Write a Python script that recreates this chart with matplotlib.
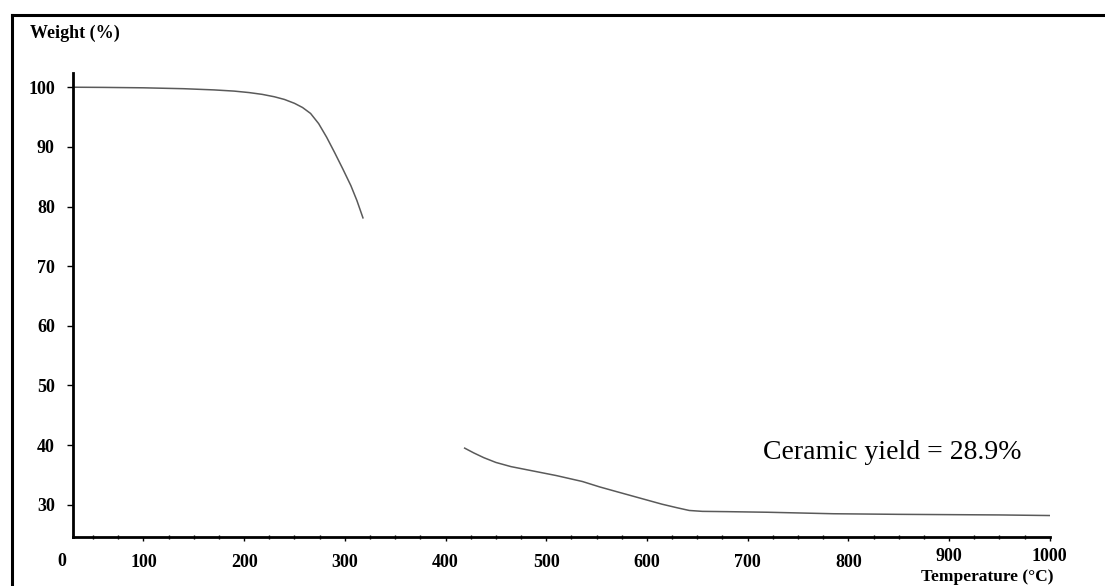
# tga_ceramic_yield.py
import numpy as np
import matplotlib
matplotlib.use('Agg')
import matplotlib.pyplot as plt
from matplotlib.lines import Line2D
from matplotlib.transforms import ScaledTranslation

# ------------- Datos -------------
temp_low = [30, 60, 100, 140, 170, 190, 205, 218, 230, 240, 250, 258, 266, 274, 282, 290, 298, 306, 312, 318]
weight_low = [100.0, 99.97, 99.9, 99.75, 99.55, 99.35, 99.1, 98.8, 98.4, 97.95, 97.3, 96.6, 95.6, 93.9, 91.6,
              89.0, 86.3, 83.5, 81.0, 78.1]

temp_high = [419, 428, 438, 450, 465, 486, 510, 536, 553, 570, 585, 600, 615, 630, 642, 655, 680, 720, 785,
             850, 900, 950, 1000]
weight_high = [39.5, 38.7, 37.9, 37.1, 36.4, 35.7, 34.9, 33.9, 33.0, 32.2, 31.5, 30.8, 30.1, 29.5, 29.05,
               28.9, 28.85, 28.75, 28.5, 28.4, 28.35, 28.3, 28.2]

x_ticks = [100, 200, 300, 400, 500, 600, 700, 800, 900, 1000]
y_ticks = [30, 40, 50, 60, 70, 80, 90, 100]
yield_label = "Ceramic yield = 28.9%"

# ------------- Figura -------------
serif = ['Liberation Serif', 'DejaVu Serif']
fig = plt.figure(figsize=(11.05, 5.86), dpi=100)
ax = fig.add_axes([0.066, 0.0836, 0.884, 0.792])

ax.plot(temp_low, weight_low, color='#5a5a5a', lw=1.1)
ax.plot(temp_high, weight_high, color='#5a5a5a', lw=1.1)

ax.set_xlim(30, 1000)
ax.set_ylim(24.6, 102.4)
ax.set_xticks(x_ticks)
ax.set_yticks(y_ticks)
ax.set_xticks(np.arange(50, 1000, 25), minor=True)
ax.set_xticklabels([str(t) for t in x_ticks], fontfamily=serif, fontweight='bold', fontsize=13)
ax.set_yticklabels([str(t) for t in y_ticks], fontfamily=serif, fontweight='bold', fontsize=13)
ax.tick_params(axis='y', direction='out', length=4, width=1, pad=9)
ax.tick_params(axis='x', which='major', direction='out', length=3, width=1, pad=9)
ax.tick_params(axis='x', which='minor', direction='inout', length=3, width=1)

# 900 y 1000 un poco mas arriba, como en el original (dejan sitio al titulo del eje)
for lbl in ax.get_xticklabels()[-2:]:
    lbl.set_transform(lbl.get_transform() + ScaledTranslation(0, 4/72, fig.dpi_scale_trans))

for s in ['top', 'right']:
    ax.spines[s].set_visible(False)
for s in ['left', 'bottom']:
    ax.spines[s].set_linewidth(2)

# etiqueta "0" en el origen
ax.text(-0.0113, -0.052, '0', transform=ax.transAxes, ha='center', va='center',
        fontfamily=serif, fontweight='bold', fontsize=13)

ax.text(844, 37.6, yield_label, ha='center', va='baseline', fontfamily=serif, fontsize=20)

fig.text(987/1105, 1 - 577/586, 'Temperature (°C)', ha='center', va='center',
         fontfamily=serif, fontweight='bold', fontsize=12.5)
fig.text(30/1105, 1 - 33/586, 'Weight (%)', ha='left', va='center',
         fontfamily=serif, fontweight='bold', fontsize=13)

# marco exterior (solo arriba e izquierda)
fig.add_artist(Line2D([12/1105, 1.0], [1 - 15/586, 1 - 15/586], color='black', lw=2.2))
fig.add_artist(Line2D([12/1105, 12/1105], [0.0, 1 - 15/586], color='black', lw=2.2))

fig.savefig('out.png', dpi=100)
plt.close(fig)
